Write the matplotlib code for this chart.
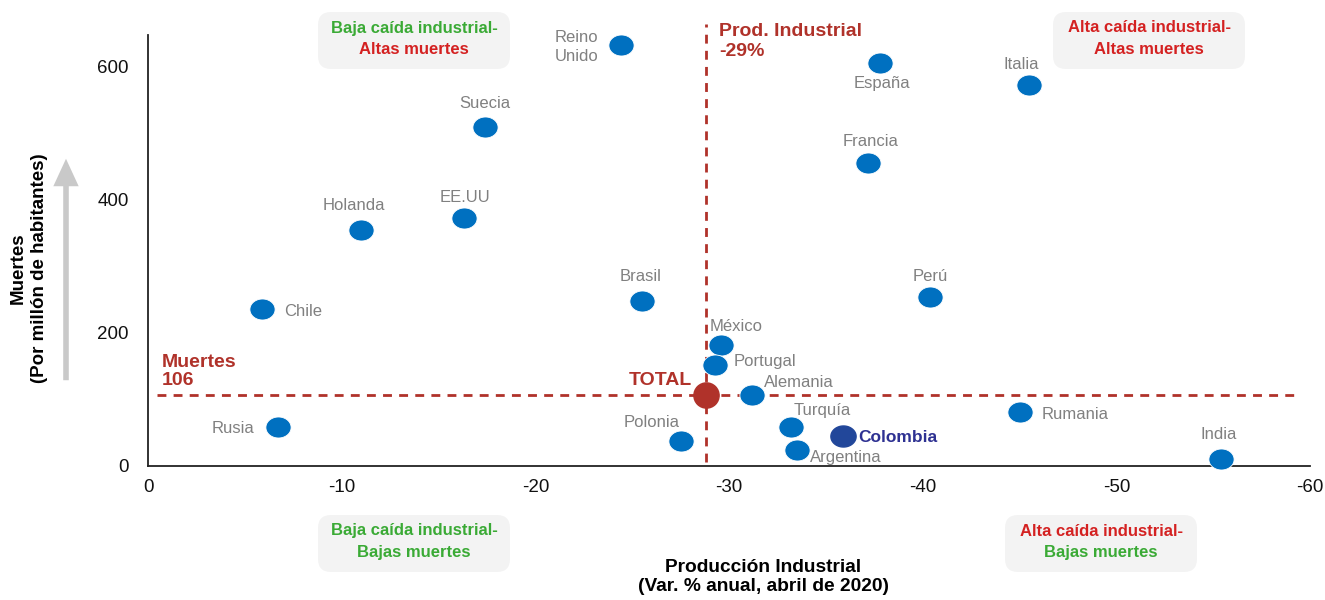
import matplotlib
matplotlib.use("Agg")
import matplotlib.pyplot as plt
from matplotlib.patches import FancyBboxPatch, FancyArrowPatch
from matplotlib.path import Path
import numpy as np

plt.rcParams['font.family'] = ['Liberation Sans', 'DejaVu Sans']

# ---- data -------------------------------------------------------------
countries = ["Reino\nUnido", "España", "Italia", "Suecia", "Francia", "EE.UU",
             "Holanda", "Brasil", "Perú", "Chile", "México", "Portugal",
             "Alemania", "Turquía", "Argentina", "Polonia", "Rusia",
             "Rumania", "India"]
prod_var = [-24.4, -37.8, -45.5, -17.4, -37.2, -16.3, -11.0, -25.5, -40.4,
            -5.9, -29.6, -29.3, -31.2, -33.2, -33.5, -27.5, -6.7, -45.0, -55.4]
deaths = [633, 606, 573, 510, 456, 373, 355, 248, 254, 236, 182, 152, 107,
          59, 24, 38, 59, 81, 10]

colombia_x, colombia_y = -35.9, 45
total_x, total_y = -28.8, 106

x_ticks = [0, -10, -20, -30, -40, -50, -60]
y_ticks = [0, 200, 400, 600]

# label placement: (dx, dy) in pixels, horizontal alignment
label_pos = {
    "Reino\nUnido": (-22, -2, "right"),
    "España": (2, -21, "center"),
    "Italia": (-8, 20, "center"),
    "Suecia": (0, 23, "center"),
    "Francia": (2, 21, "center"),
    "EE.UU": (1, 20, "center"),
    "Holanda": (-7, 24, "center"),
    "Brasil": (-1, 25, "center"),
    "Perú": (0, 21, "center"),
    "Chile": (22, -2, "left"),
    "México": (-12, 18, "left"),
    "Portugal": (18, 3, "left"),
    "Alemania": (12, 12, "left"),
    "Turquía": (3, 16, "left"),
    "Argentina": (13, -7, "left"),
    "Polonia": (-29, 18, "center"),
    "Rusia": (-23, -2, "right"),
    "Rumania": (22, -2, "left"),
    "India": (-2, 25, "center"),
}

# ---- style ------------------------------------------------------------
BLUE = "#0070C0"
NAVY = "#22479A"
NAVY_TXT = "#2E3192"
DARK_RED = "#B0322A"
GREEN = "#3AAA35"
RED = "#D42121"
GRAY_TXT = "#808080"
BOX = "#F3F3F3"

# slightly wide ellipse marker
t = np.linspace(0, 2 * np.pi, 60)
ell = Path(np.column_stack([1.2 * np.cos(t), np.sin(t)]), closed=True)

fig = plt.figure(figsize=(13.25, 6.0), dpi=100)
ax = fig.add_axes([148 / 1325, 1 - 466 / 600, 1162 / 1325, 431 / 600])

ax.set_xlim(0, -60)
ax.set_ylim(0, 648)

for s in ["top", "right"]:
    ax.spines[s].set_visible(False)
for s in ["left", "bottom"]:
    ax.spines[s].set_color("#222222")
    ax.spines[s].set_linewidth(1.3)

ax.set_xticks(x_ticks)
ax.set_yticks(y_ticks)
ax.set_xticklabels([str(v) for v in x_ticks])
ax.tick_params(length=0, labelsize=13.5, colors="#111111")
ax.tick_params(axis="x", pad=9)
ax.tick_params(axis="y", pad=14)

# reference lines
ax.plot([-0.46, -59.5], [total_y, total_y], ls=(0, (3.2, 2.6)), lw=2.0,
        color=DARK_RED, zorder=2, clip_on=False)
ax.plot([total_x, total_x], [6, 665], ls=(0, (3.2, 2.6)), lw=2.0,
        color=DARK_RED, zorder=2, clip_on=False)

# countries
ax.scatter(prod_var, deaths, s=330, marker=ell, color=BLUE, edgecolor="white",
           linewidth=0.6, zorder=4, clip_on=False)
for name, x, y in zip(countries, prod_var, deaths):
    dx, dy, ha = label_pos[name]
    ax.annotate(name, (x, y), xytext=(dx, dy), textcoords="offset pixels",
                ha=ha, va="center", fontsize=12, color=GRAY_TXT,
                multialignment="left", linespacing=1.35, zorder=5)

# Colombia
ax.scatter([colombia_x], [colombia_y], s=330, marker=ell, color=NAVY, zorder=4)
ax.annotate("Colombia", (colombia_x, colombia_y), xytext=(15, -1),
            textcoords="offset pixels", ha="left", va="center", fontsize=12.5,
            fontweight="bold", color=NAVY_TXT, zorder=5)

# total
ax.scatter([total_x], [total_y], s=330, marker="o", color=DARK_RED, zorder=4)
ax.annotate("TOTAL", (total_x, total_y), xytext=(-14, 15),
            textcoords="offset pixels", ha="right", va="center", fontsize=14,
            fontweight="bold", color=DARK_RED, zorder=5)

ax.annotate(f"Muertes\n{total_y}", (-0.72, total_y), xytext=(0, 6),
            textcoords="offset pixels", ha="left", va="bottom", fontsize=14,
            fontweight="bold", color=DARK_RED, linespacing=1.15)
ax.annotate(f"Prod. Industrial\n{total_x:.0f}%", (total_x, 648),
            xytext=(13, 12), textcoords="offset pixels", ha="left", va="top",
            fontsize=14, fontweight="bold", color=DARK_RED, linespacing=1.2,
            annotation_clip=False)

# axis titles
fig.text(763 / 1325, 1 - 577 / 600,
         "Producción Industrial\n(Var. % anual, abril de 2020)",
         ha="center", va="center", fontsize=13.8, fontweight="bold",
         linespacing=1.2)
fig.text(29 / 1325, 1 - 268 / 600, "Muertes\n(Por millón de habitantes)",
         ha="center", va="center", rotation=90, fontsize=13.5,
         fontweight="bold", linespacing=1.3)

# upward arrow next to the y title
fig.patches.append(FancyArrowPatch(
    (66 / 1325, 1 - 383 / 600), (66 / 1325, 1 - 156 / 600),
    transform=fig.transFigure, arrowstyle="-|>,head_length=6.5,head_width=3",
    mutation_scale=2, lw=4, color="#C9C9C9", capstyle="butt",
    joinstyle="miter"))

# quadrant boxes
quadrants = [
    (318, 12, "Baja caída industrial-", GREEN, "Altas muertes", RED),
    (1053, 12, "Alta caída industrial-", RED, "Altas muertes", RED),
    (318, 515, "Baja caída industrial-", GREEN, "Bajas muertes", GREEN),
    (1005, 515, "Alta caída industrial-", RED, "Bajas muertes", GREEN),
]
bw, bh = 192, 57
for x0, y0, l1, c1, l2, c2 in quadrants:
    box = FancyBboxPatch((x0 / 100, (600 - y0 - bh) / 100), bw / 100, bh / 100,
                         boxstyle="round,pad=0,rounding_size=0.13",
                         transform=fig.dpi_scale_trans, facecolor=BOX,
                         edgecolor="none", zorder=0)
    fig.patches.append(box)
    cx = (x0 + bw / 2) / 1325
    fig.text(cx, 1 - (y0 + 16) / 600, l1, ha="center", va="center",
             fontsize=12, fontweight="bold", color=c1)
    fig.text(cx, 1 - (y0 + 38) / 600, l2, ha="center", va="center",
             fontsize=12, fontweight="bold", color=c2)

fig.savefig("out.png", dpi=100)
